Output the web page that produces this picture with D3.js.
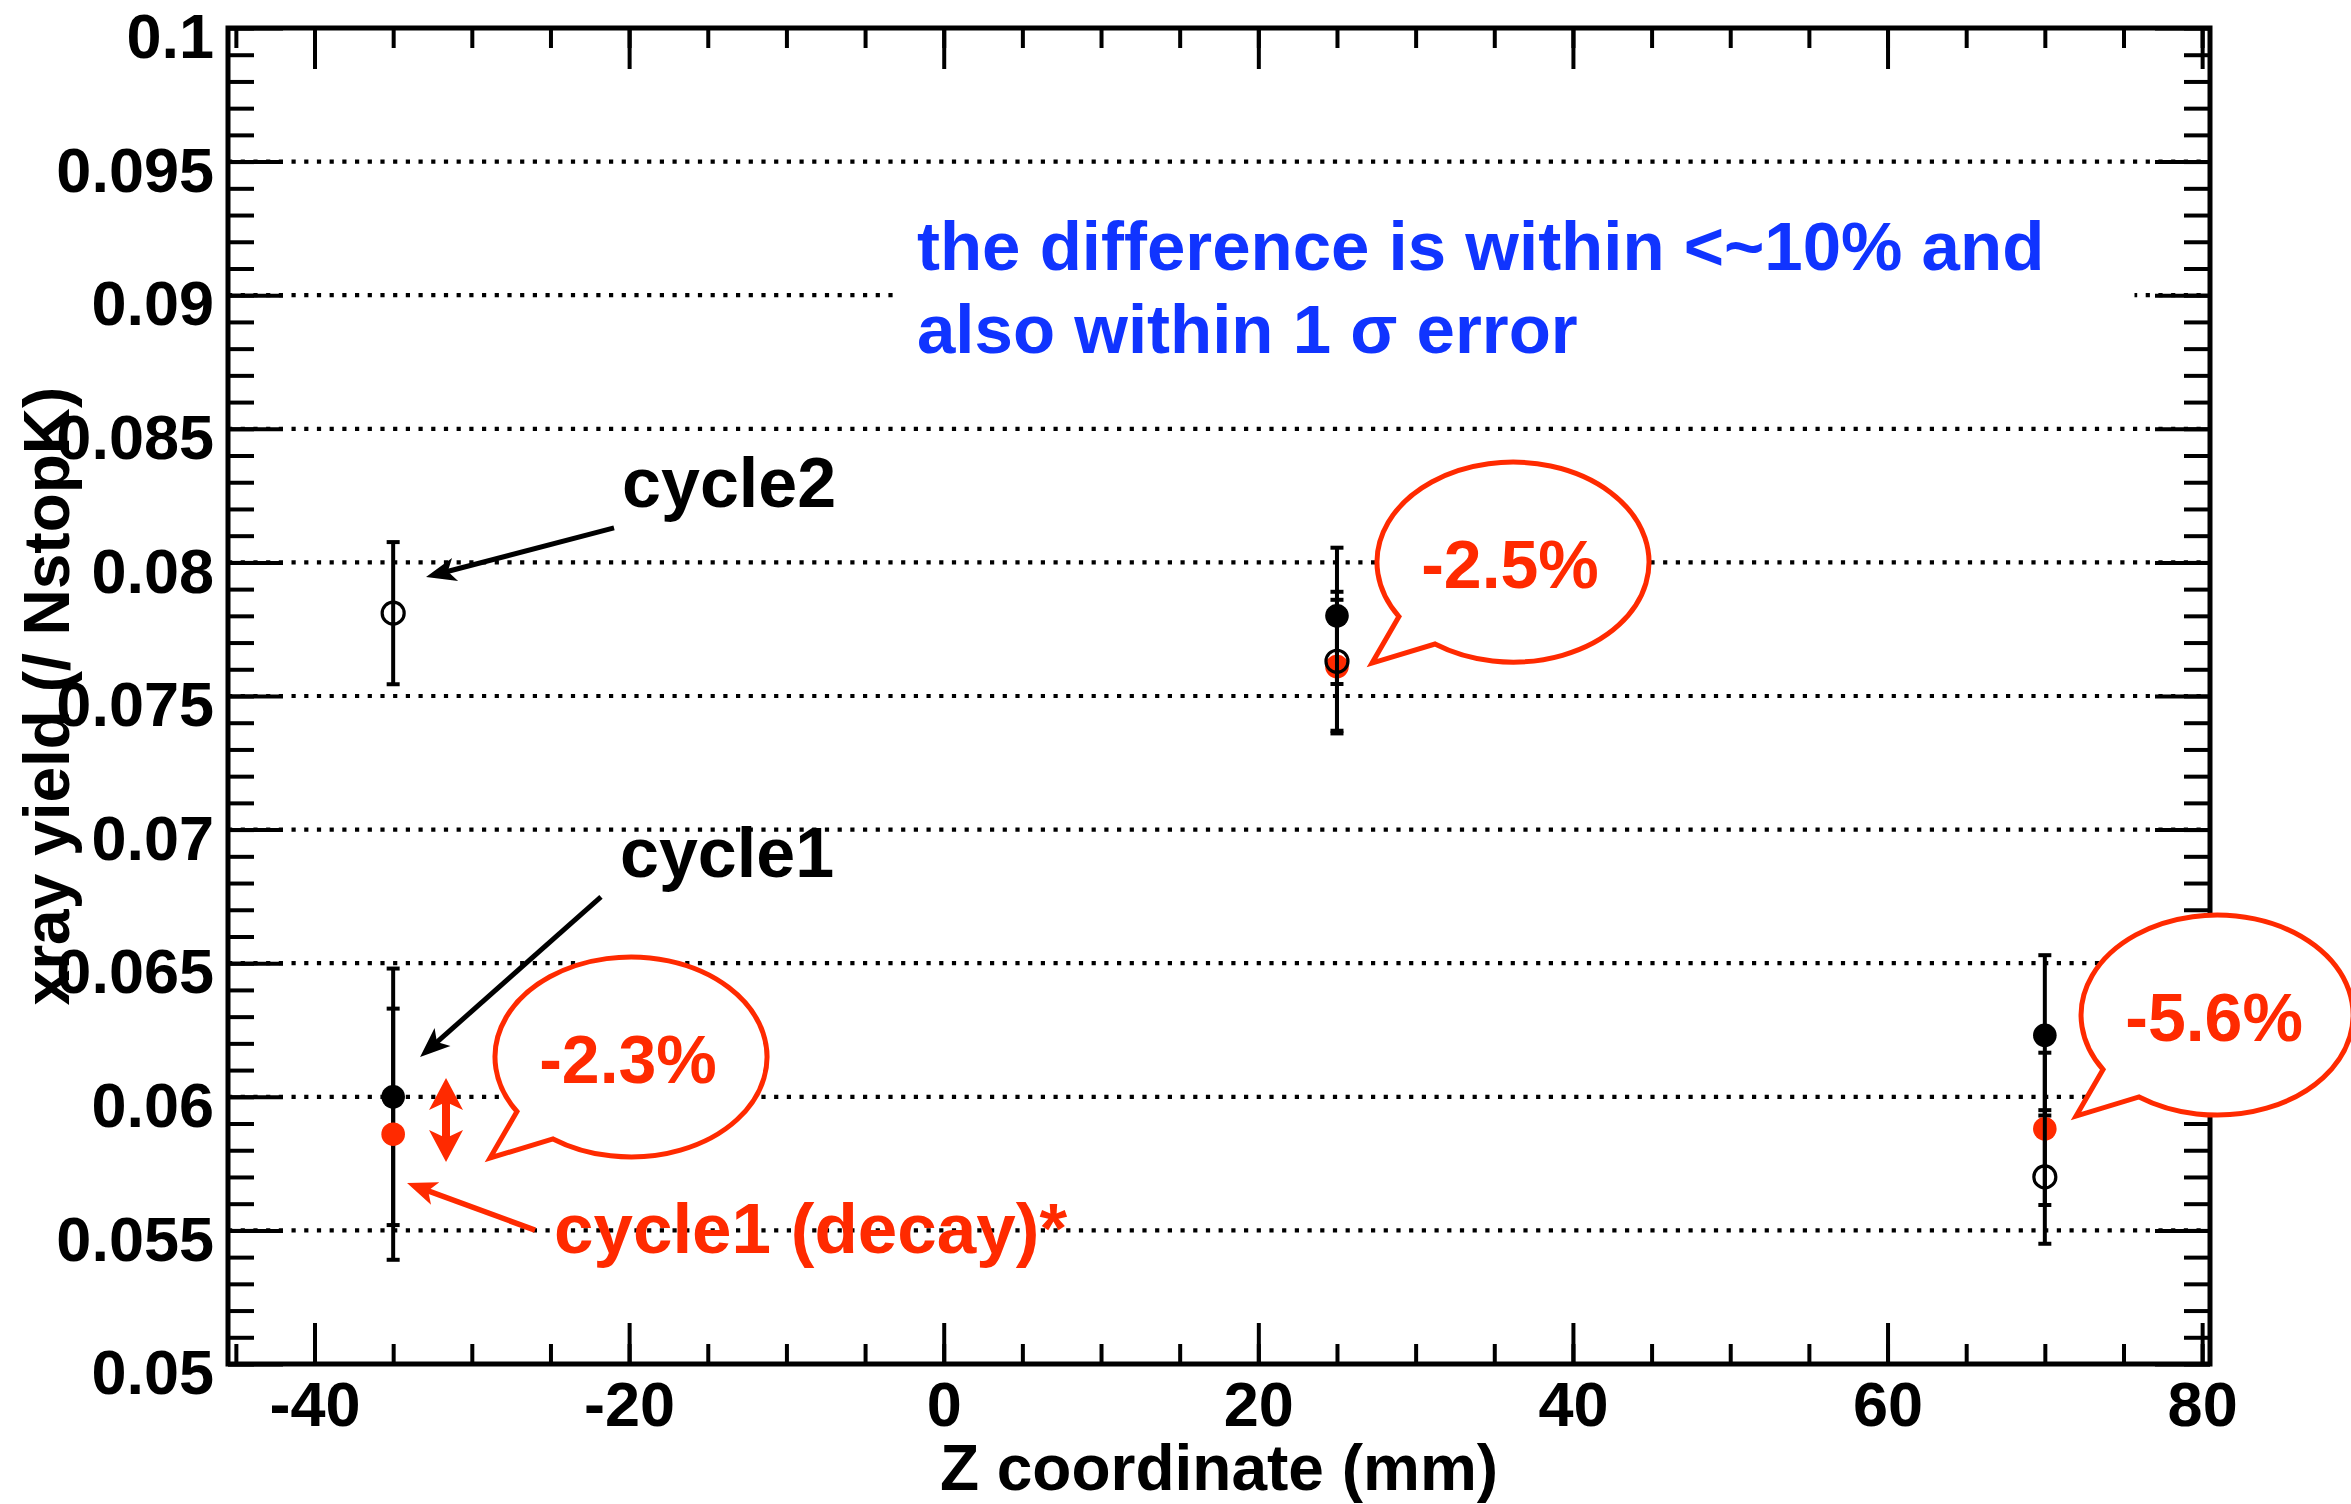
<!DOCTYPE html>
<html>
<head>
<meta charset="utf-8">
<script src="https://cdn.jsdelivr.net/npm/d3@7"></script>
<style>
  body { margin: 0; background: #fff; }
  text { font-family: "Liberation Sans", Arial, Helvetica, sans-serif; font-weight: bold; }
</style>
</head>
<body>
<script>
// measured points (z in mm, yield per stopped K)
const zCoord = [-35, 25, 70];
const cycle1Yield = [0.0600, 0.0780, 0.0623];
const cycle1Err = [0.0048, 0.00255, 0.0030];
const decayYield = [0.0586, 0.0761, 0.0588];
const decayErr = [0.0047, 0.0025, 0.00285];
const cycle2Yield = [0.0781, 0.0763, 0.0570];
const cycle2Err = [0.00266, 0.0026, 0.0025];

const xTicks = [-40, -20, 0, 20, 40, 60, 80];
const xTickLabels = ["-40", "-20", "0", "20", "40", "60", "80"];
const yTicks = [0.05, 0.055, 0.06, 0.065, 0.07, 0.075, 0.08, 0.085, 0.09, 0.095, 0.1];
const yTickLabels = ["0.05", "0.055", "0.06", "0.065", "0.07", "0.075", "0.08", "0.085", "0.09", "0.095", "0.1"];

const bubbleLabels = ["-2.3%", "-2.5%", "-5.6%"];

const W = 2351, H = 1504;
const m = { left: 228, right: 2210, top: 28, bottom: 1364 };
const red = "#ff2a00", blue = "#1034ff";

const svg = d3.select("body").append("svg")
  .attr("width", W).attr("height", H);

const x = d3.scaleLinear().domain([-45.5, 80.5]).range([m.left, m.right]);
const y = d3.scaleLinear().domain([0.05, 0.1]).range([m.bottom, m.top]);

// dotted horizontal grid
svg.append("g").selectAll("line")
  .data(yTicks.slice(1, -1))
  .join("line")
  .attr("x1", m.left).attr("x2", m.right)
  .attr("y1", d => y(d)).attr("y2", d => y(d))
  .attr("stroke", "#000").attr("stroke-width", 4.2)
  .attr("stroke-dasharray", "4.2,8.5");

// blue comment with its white box
svg.append("rect")
  .attr("x", x(-3.0)).attr("y", y(0.09375))
  .attr("width", x(75.7) - x(-3.0)).attr("height", y(0.0863) - y(0.09375))
  .attr("fill", "#fff");
const note = svg.append("text").attr("fill", blue).attr("font-size", 69);
note.append("tspan").attr("x", x(-1.7)).attr("y", y(0.09094)).text("the difference is within <~10% and");
note.append("tspan").attr("x", x(-1.7)).attr("y", y(0.08784)).text("also within 1 σ error");

// axes
function styleAxis(g, w) {
  g.select(".domain").remove();
  g.attr("font-family", null).attr("font-size", null);
  g.selectAll(".tick line").attr("stroke", "#000").attr("stroke-width", w);
}
const xMinor = d3.range(-45, 81, 5);
const yMinor = d3.range(50, 101, 1).map(d => d / 1000);

svg.append("g").attr("transform", `translate(0,${m.bottom})`)
  .call(d3.axisBottom(x).tickValues(xMinor).tickSize(-20).tickFormat(""))
  .call(g => styleAxis(g, 4));
svg.append("g").attr("transform", `translate(0,${m.bottom})`)
  .call(d3.axisBottom(x).tickValues(xTicks).tickSize(-41).tickPadding(17)
    .tickFormat((d, i) => xTickLabels[i]))
  .call(g => styleAxis(g, 4))
  .call(g => g.selectAll("text").attr("fill", "#000").attr("font-size", 63));

svg.append("g").attr("transform", `translate(0,${m.top})`)
  .call(d3.axisTop(x).tickValues(xMinor).tickSize(-20).tickFormat(""))
  .call(g => styleAxis(g, 4));
svg.append("g").attr("transform", `translate(0,${m.top})`)
  .call(d3.axisTop(x).tickValues(xTicks).tickSize(-41).tickFormat(""))
  .call(g => styleAxis(g, 4));

svg.append("g").attr("transform", `translate(${m.left},0)`)
  .call(d3.axisLeft(y).tickValues(yMinor).tickSize(-26).tickFormat(""))
  .call(g => styleAxis(g, 4));
svg.append("g").attr("transform", `translate(${m.left},0)`)
  .call(d3.axisLeft(y).tickValues(yTicks).tickSize(-55).tickPadding(14)
    .tickFormat((d, i) => yTickLabels[i]))
  .call(g => styleAxis(g, 4))
  .call(g => g.selectAll("text").attr("fill", "#000").attr("font-size", 63).attr("dy", "0.47em"));

svg.append("g").attr("transform", `translate(${m.right},0)`)
  .call(d3.axisRight(y).tickValues(yMinor).tickSize(-26).tickFormat(""))
  .call(g => styleAxis(g, 4));
svg.append("g").attr("transform", `translate(${m.right},0)`)
  .call(d3.axisRight(y).tickValues(yTicks).tickSize(-55).tickFormat(""))
  .call(g => styleAxis(g, 4));

svg.append("rect")
  .attr("x", m.left).attr("y", m.top)
  .attr("width", m.right - m.left).attr("height", m.bottom - m.top)
  .attr("fill", "none").attr("stroke", "#000").attr("stroke-width", 5);

// axis titles
svg.append("text")
  .attr("x", (m.left + m.right) / 2).attr("y", 1490)
  .attr("text-anchor", "middle").attr("font-size", 64)
  .text("Z coordinate (mm)");
svg.append("text")
  .attr("transform", `translate(69,${(m.top + m.bottom) / 2}) rotate(-90)`)
  .attr("text-anchor", "middle").attr("font-size", 64)
  .text("xray yield (/ NstopK)");

// data: error bars and markers
function series(vals, errs, fill, stroke) {
  const pts = zCoord.map((z, i) => ({ z, v: vals[i], e: errs[i] }));
  const g = svg.append("g");
  g.selectAll(".bar").data(pts).join("line")
    .attr("x1", d => x(d.z)).attr("x2", d => x(d.z))
    .attr("y1", d => y(d.v - d.e)).attr("y2", d => y(d.v + d.e))
    .attr("stroke", "#000").attr("stroke-width", 4);
  g.selectAll(".cap").data(pts.flatMap(d => [d.v - d.e, d.v + d.e].map(v => ({ z: d.z, v }))))
    .join("line")
    .attr("x1", d => x(d.z) - 6.5).attr("x2", d => x(d.z) + 6.5)
    .attr("y1", d => y(d.v)).attr("y2", d => y(d.v))
    .attr("stroke", "#000").attr("stroke-width", 4);
  g.selectAll("circle").data(pts).join("circle")
    .attr("cx", d => x(d.z)).attr("cy", d => y(d.v))
    .attr("r", stroke ? 11 : 11.8)
    .attr("fill", fill)
    .attr("stroke", stroke || "none").attr("stroke-width", 3.2);
}
series(cycle1Yield, cycle1Err, "#000");
series(decayYield, decayErr, red);
series(cycle2Yield, cycle2Err, "none", "#000");

// annotations
function arrow(a, b, color, w, len, half, both) {
  const [x1, y1] = [x(a[0]), y(a[1])], [x2, y2] = [x(b[0]), y(b[1])];
  const dx = x2 - x1, dy = y2 - y1, L = Math.hypot(dx, dy);
  const ux = dx / L, uy = dy / L;
  const head = (tx, ty, sx, sy) => {
    const bx = tx - sx * len, by = ty - sy * len;
    const nx = tx - sx * len * 0.75, ny = ty - sy * len * 0.75;
    return [[tx, ty], [bx - sy * half, by + sx * half], [nx, ny], [bx + sy * half, by - sx * half]];
  };
  const s = both ? [x1 + ux * len * 0.7, y1 + uy * len * 0.7] : [x1, y1];
  svg.append("line")
    .attr("x1", s[0]).attr("y1", s[1])
    .attr("x2", x2 - ux * len * 0.7).attr("y2", y2 - uy * len * 0.7)
    .attr("stroke", color).attr("stroke-width", w);
  const heads = [head(x2, y2, ux, uy)];
  if (both) heads.push(head(x1, y1, -ux, -uy));
  heads.forEach(h => svg.append("path")
    .attr("d", "M" + h.map(p => p.join(",")).join("L") + "Z")
    .attr("fill", color));
}
arrow([-20.96, 0.08129], [-32.91, 0.07945], "#000", 5, 30, 12);
arrow([-21.79, 0.06748], [-33.29, 0.06149], "#000", 5, 30, 12);
arrow([-25.98, 0.05501], [-34.12, 0.05677], red, 5.5, 30, 12);
arrow([-31.64, 0.05756], [-31.64, 0.0607], red, 8, 32, 17, true);

svg.append("text").attr("x", x(-20.45)).attr("y", y(0.08207))
  .attr("font-size", 70).attr("fill", "#000").text("cycle2");
svg.append("text").attr("x", x(-20.58)).attr("y", y(0.06823))
  .attr("font-size", 70).attr("fill", "#000").text("cycle1");
svg.append("text").attr("x", x(-24.78)).attr("y", y(0.05415))
  .attr("font-size", 71).attr("fill", red).text("cycle1 (decay)*");

// speech bubbles
const bubbleAt = [[-19.88, 0.06149], [36.19, 0.08001], [80.95, 0.06306]];
const rx = 136, ry = 100, t1 = 125 * Math.PI / 180, t2 = 147 * Math.PI / 180;
bubbleAt.forEach((c, i) => {
  const cx = x(c[0]), cy = y(c[1]);
  const p = a => [cx + rx * Math.cos(a), cy + ry * Math.sin(a)];
  const d = `M${p(t2)}A${rx},${ry} 0 1 1 ${p(t1)}L${cx - 141},${cy + 101}Z`;
  svg.append("path").attr("d", d)
    .attr("fill", "#fff").attr("stroke", red).attr("stroke-width", 5);
  svg.append("text").attr("x", cx - 3).attr("y", cy + 26)
    .attr("text-anchor", "middle").attr("font-size", 68).attr("fill", red)
    .text(bubbleLabels[i]);
});
</script>
</body>
</html>
